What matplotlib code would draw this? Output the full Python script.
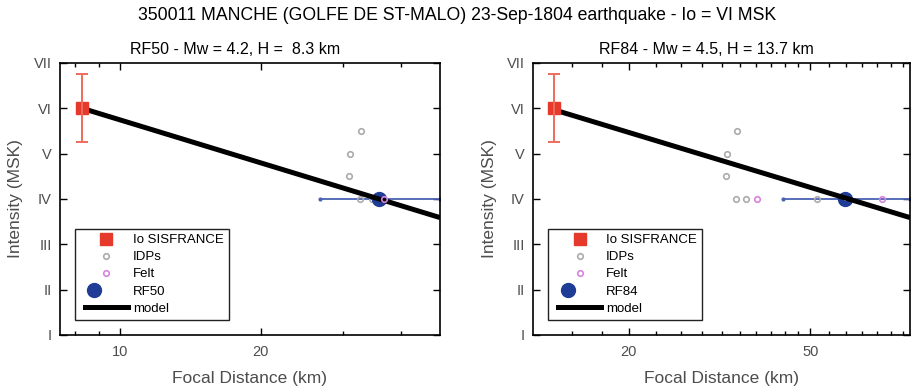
import numpy as np
import matplotlib
matplotlib.use('Agg')
import matplotlib.pyplot as plt
from matplotlib.legend_handler import HandlerTuple, HandlerLine2D
from matplotlib.lines import Line2D

plt.rcParams['font.family'] = ['Liberation Sans', 'DejaVu Sans']

# --- data ---
suptitle = '350011 MANCHE (GOLFE DE ST-MALO) 23-Sep-1804 earthquake - Io = VI MSK'
roman = ['I', 'II', 'III', 'IV', 'V', 'VI', 'VII']
io_int = 6.0
io_err = 0.75

# RF50 panel
rf50_title = 'RF50 - Mw = 4.2, H =  8.3 km'
rf50_depth = 8.3
rf50_xlim = [7.44, 48.4]
rf50_model_dist = [8.3, 48.4]
rf50_model_int = [6.0, 3.59]
rf50_idp_dist = [32.8, 31.0, 30.9, 32.6, 34.6, 50.6]
rf50_idp_int = [5.5, 5.0, 4.5, 4.0, 4.0, 4.0]
rf50_felt_dist = [36.7, 70.9]
rf50_felt_int = [4.0, 4.0]
rf50_dist = 35.9
rf50_int = 4.0
rf50_range = [26.8, 48.4]

# RF84 panel
rf84_title = 'RF84 - Mw = 4.5, H = 13.7 km'
rf84_depth = 13.7
rf84_xlim = [12.36, 82.7]
rf84_model_dist = [13.7, 82.7]
rf84_model_int = [5.97, 3.59]
rf84_idp_dist = [34.6, 32.9, 32.7, 34.4, 36.2, 51.8]
rf84_idp_int = [5.5, 5.0, 4.5, 4.0, 4.0, 4.0]
rf84_felt_dist = [38.3, 71.7]
rf84_felt_int = [4.0, 4.0]
rf84_dist = 59.7
rf84_int = 4.0
rf84_range = [43.5, 82.7]

red = '#e53a2b'
red_err = '#ee6a5c'
blue = '#1f3c96'
blue_line = '#4a63b3'
grey_txt = '#4d4d4d'
grey_pt = '#ababab'
pink_pt = '#d883e0'

fig = plt.figure(figsize=(9.14, 3.91), dpi=100)
fig.text(0.5, 1 - 15 / 391, suptitle, ha='center', va='center', fontsize=12.7)

W, H = 914, 391


def panel(rect, name, title, depth, xlim, mdist, mint, idist, iint, fdist, fint,
          rdist, rint, rrange, major, minor):
    ax = fig.add_axes([rect[0] / W, 1 - 335 / H, rect[1] / W, 272 / H])
    ax.set_xscale('log')
    # distance range of the RF point
    ax.plot(rrange, [rint, rint], color=blue_line, lw=1.3, marker='.', ms=4, zorder=2)
    ax.plot(idist, iint, 'o', mfc='none', mec=grey_pt, ms=4, mew=1.2, zorder=3)
    ax.plot([rdist], [rint], 'o', color=blue, ms=10, zorder=4)
    ax.plot([rdist], [rint], '.', color='white', ms=2, zorder=4)
    ax.plot(mdist, mint, color='black', lw=3.6, zorder=5, solid_capstyle='butt')
    ax.plot(fdist, fint, 'o', mfc='none', mec=pink_pt, ms=4, mew=1.2, zorder=6)
    ax.plot([depth], [io_int], 's', color=red, ms=9, zorder=6)
    ax.errorbar([depth], [io_int], yerr=io_err, fmt='none', ecolor=red_err,
                elinewidth=1.4, capsize=4, capthick=1.4, zorder=7)

    ax.set_xlim(xlim)
    ax.set_ylim(1, 7)
    ax.set_yticks(range(1, 8))
    ax.set_yticklabels(roman)
    ax.set_xticks(major)
    ax.set_xticklabels([str(m) for m in major])
    ax.set_xticks(minor, minor=True)
    ax.xaxis.set_minor_formatter(plt.NullFormatter())
    ax.tick_params(which='both', direction='in', top=True, right=True,
                   labelsize=10.5, labelcolor=grey_txt, width=1)
    ax.tick_params(which='major', length=5)
    ax.tick_params(which='minor', length=3)
    ax.tick_params(axis='x', pad=7)
    ax.tick_params(axis='y', pad=6)
    for s in ax.spines.values():
        s.set_linewidth(1.2)

    ax.set_ylabel('Intensity (MSK)', fontsize=12.5, color=grey_txt, va='center')
    ax.yaxis.set_label_coords(-44 / rect[1], 0.5)
    ax.set_xlabel('Focal Distance (km)', fontsize=12.5, color=grey_txt, va='center')
    ax.xaxis.set_label_coords(0.5, -44 / 272)
    ax.text(0.46, 1 + 13 / 272, title, transform=ax.transAxes, ha='center',
            va='center', fontsize=11.5)

    handles = [
        Line2D([], [], ls='none', marker='s', color=red, ms=8),
        Line2D([], [], ls='none', marker='o', mfc='none', mec=grey_pt, ms=4, mew=1.2),
        Line2D([], [], ls='none', marker='o', mfc='none', mec=pink_pt, ms=4, mew=1.2),
        (Line2D([], [], ls='none', marker='o', color=blue, ms=10),
         Line2D([], [], ls='none', marker='.', color='white', ms=2)),
        Line2D([], [], color='black', lw=3.6),
    ]
    labels = ['Io SISFRANCE', 'IDPs', 'Felt', name, 'model']
    leg = ax.legend(handles, labels, loc='lower left',
                    bbox_to_anchor=(15 / rect[1], 15 / 272), fontsize=9.5,
                    handler_map={tuple: HandlerTuple(ndivide=None, xpad=0.36),
                                 Line2D: HandlerLine2D(xpad=0.36)},
                    handlelength=3.6, handletextpad=0.38, labelspacing=0.37,
                    borderpad=0.4, borderaxespad=0, fancybox=False, framealpha=1,
                    edgecolor='#222222')
    leg.get_frame().set_linewidth(1.0)
    return ax


panel((60, 380), 'RF50', rf50_title, rf50_depth, rf50_xlim, rf50_model_dist,
      rf50_model_int, rf50_idp_dist, rf50_idp_int, rf50_felt_dist, rf50_felt_int,
      rf50_dist, rf50_int, rf50_range, [10, 20], [8, 9, 30, 40])
panel((533.3, 376.7), 'RF84', rf84_title, rf84_depth, rf84_xlim, rf84_model_dist,
      rf84_model_int, rf84_idp_dist, rf84_idp_int, rf84_felt_dist, rf84_felt_int,
      rf84_dist, rf84_int, rf84_range, [20, 50],
      [15, 17.5, 23, 26, 29, 32, 35, 38, 41, 44, 47, 55, 60, 65, 70, 75, 80])

fig.savefig('out.png', dpi=100)
